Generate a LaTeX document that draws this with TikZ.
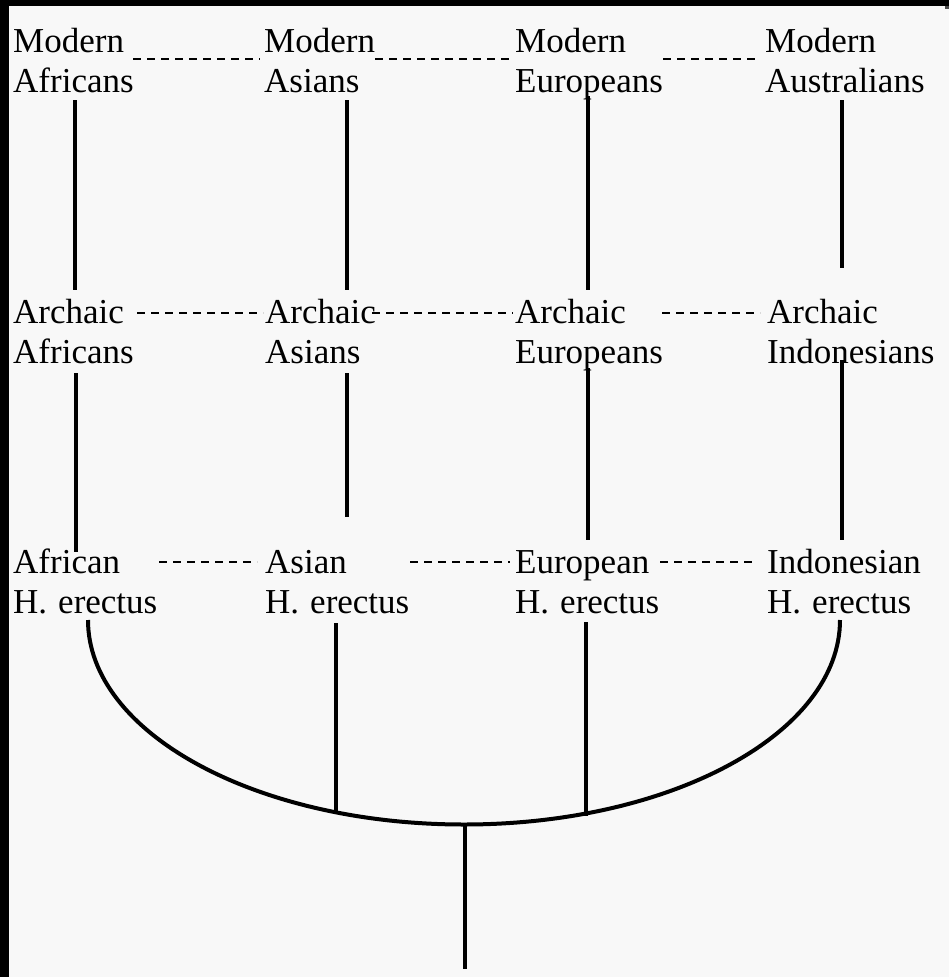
\documentclass[tikz,border=0pt]{standalone}
\usepackage{fontspec}
\setmainfont{Liberation Serif}
\definecolor{bgc}{HTML}{F8F8F8}
\newcommand\lbltwo[2]{\vtop{\baselineskip=40pt\hbox{#1}\hbox{#2}}}
\begin{document}
\begin{tikzpicture}[x=1pt,y=1pt,
  lbl/.style={inner sep=0pt, anchor=base west, font=\fontsize{35}{40}\selectfont},
  solidline/.style={line width=4pt, black},
  thinline/.style={line width=3.6pt, black},
  dashline/.style={line width=1.8pt, black, dash pattern=on 8pt off 6pt}]
\useasboundingbox (0,0) rectangle (949,-977);
\fill[bgc] (0,0) rectangle (949,-977);
\fill[black] (0,0) rectangle (949,-6);
\fill[black] (0,0) rectangle (9,-977);
\fill[black!70] (945,-6) rectangle (949,-9);
% labels
\node[lbl] (mAf) at (13,-52) {\lbltwo{Modern}{Africans}};
\node[lbl] (mAs) at (264,-52) {\lbltwo{Modern}{Asians}};
\node[lbl] (mEu) at (515,-52) {\lbltwo{Modern}{Europeans}};
\node[lbl] (mAu) at (765,-52) {\lbltwo{Modern}{Australians}};
\node[lbl] (aAf) at (13,-323) {\lbltwo{Archaic}{Africans}};
\node[lbl] (aAs) at (265,-323) {\lbltwo{Archaic}{Asians}};
\node[lbl] (aEu) at (515,-323) {\lbltwo{Archaic}{Europeans}};
\node[lbl] (aIn) at (767,-323) {\lbltwo{Archaic}{Indonesians}};
\node[lbl] (hAf) at (13,-573) {\lbltwo{African}{H.\hspace{11pt}erectus}};
\node[lbl] (hAs) at (265,-573) {\lbltwo{Asian}{H.\hspace{11pt}erectus}};
\node[lbl] (hEu) at (515,-573) {\lbltwo{European}{H.\hspace{11pt}erectus}};
\node[lbl] (hIn) at (767,-573) {\lbltwo{Indonesian}{H.\hspace{11pt}erectus}};
% dashed links
\coordinate (d1a) at (133,-59); \coordinate (d1b) at (260,-59);
\coordinate (d2a) at (375,-59); \coordinate (d2b) at (513,-59);
\coordinate (d3a) at (663,-59); \coordinate (d3b) at (760,-59);
\coordinate (d4a) at (137,-313); \coordinate (d4b) at (263,-313);
\coordinate (d5a) at (372,-313); \coordinate (d5b) at (513,-313);
\coordinate (d6a) at (662,-313); \coordinate (d6b) at (760,-313);
\coordinate (d7a) at (159,-562); \coordinate (d7b) at (257,-562);
\coordinate (d8a) at (410,-562); \coordinate (d8b) at (510,-562);
\coordinate (d9a) at (660,-562); \coordinate (d9b) at (757,-562);
\foreach \i in {1,...,9}{\draw[dashline] (d\i a) -- (d\i b);}
% vertical lines
\coordinate (v1a) at (75,-100); \coordinate (v1b) at (75,-290);
\coordinate (v2a) at (347,-100); \coordinate (v2b) at (347,-290);
\coordinate (v3a) at (588,-96); \coordinate (v3b) at (588,-290);
\coordinate (v4a) at (842,-100); \coordinate (v4b) at (842,-268);
\coordinate (v5a) at (76,-373); \coordinate (v5b) at (76,-552);
\coordinate (v6a) at (347,-373); \coordinate (v6b) at (347,-517);
\coordinate (v7a) at (588,-368); \coordinate (v7b) at (588,-540);
\coordinate (v8a) at (842,-360); \coordinate (v8b) at (842,-540);
\foreach \i in {1,...,8}{\draw[solidline] (v\i a) -- (v\i b);}
% bottom tree
\coordinate (aL) at (88,-620);
\draw[solidline] (aL) arc[start angle=180, end angle=360, x radius=376, y radius=204.5] coordinate (aR);
\coordinate (asT) at (336,-623); \coordinate (asB) at (336,-812);
\coordinate (euT) at (586,-622); \coordinate (euB) at (586,-816);
\coordinate (stT) at (465,-825); \coordinate (stB) at (465,-969);
\draw[thinline] (asT) -- (asB);
\draw[thinline] (euT) -- (euB);
\draw[thinline] (stT) -- (stB);
\end{tikzpicture}
\end{document}
